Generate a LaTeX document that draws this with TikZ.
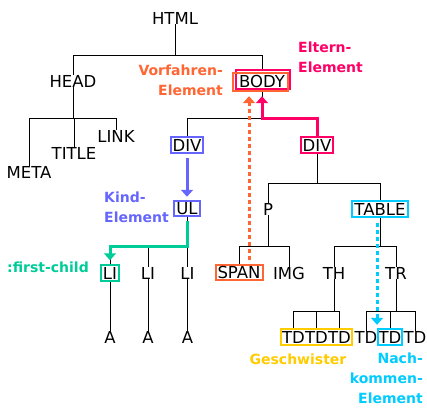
\documentclass[tikz,border=0pt]{standalone}
\usepackage{fontspec}
\setmainfont{DejaVu Sans}
\usetikzlibrary{arrows.meta,calc,fit}
\definecolor{orangec}{HTML}{FF6633}
\definecolor{pinkc}{HTML}{FF0066}
\definecolor{bluec}{HTML}{6666FF}
\definecolor{greenc}{HTML}{00CC99}
\definecolor{yellowc}{HTML}{FFCC00}
\definecolor{cyanc}{HTML}{00CCFF}
\newcommand\tnf{\fontsize{16.5}{20}\selectfont}
\newcommand\lbf{\bfseries\fontsize{14}{20}\selectfont}
\begin{document}
\begin{tikzpicture}[x=1pt,y=-1pt,
 tn/.style={font=\tnf, inner sep=0pt, text height=12pt, text depth=0pt},
 bx/.style={tn, draw=#1, line width=2pt, inner xsep=2pt, inner ysep=1.75pt},
 fitbox/.style={draw=#1, line width=2pt},
 tl/.style={line width=1pt},
 lbl/.style={font=\lbf, inner sep=0pt, text=#1},
 thickarrow/.style={draw=#1, line width=3pt, -{Triangle[width=12pt,length=7pt]}},
 dotarrow/.style={draw=#1, line width=3pt, dash pattern=on 4pt off 3pt, -{Triangle[width=12pt,length=7pt]}},
]
\useasboundingbox (0,0) rectangle (427,416);
\fill[white] (0,0) rectangle (427,416);
% bars
\coordinate (b1) at (0,55);
\coordinate (b2) at (0,118);
\coordinate (b3) at (0,183);
\coordinate (b4) at (0,246.5);
\coordinate (b5) at (0,311);
\coordinate (ox) at (249,0);
\coordinate (cx) at (377,0);
% nodes
\node[tn] (html) at (175,18) {HTML};
\node[tn] (head) at (73,81) {HEAD};
\node[tn] (meta) at (29,172) {META};
\node[tn] (title) at (74,153) {TITLE};
\node[tn] (link) at (116,136) {LINK};
\node[tn] (body) at (262,81) {BODY};
\node[fit=(body), inner xsep=3.5pt, inner ysep=3.5pt, xshift=1pt, yshift=1.5pt, fitbox=pinkc] (bodyp) {};
\node[fit=(body), inner xsep=4pt, inner ysep=3pt, xshift=-1.5pt, yshift=-1pt, fitbox=orangec] (bodyo) {};
\node[bx=bluec] (div1) at (187,145) {DIV};
\node[bx=pinkc] (div2) at (317,145) {DIV};
\node[bx=bluec] (ul) at (187,208.5) {UL};
\node[bx=greenc] (li1) at (110,273) {LI};
\node[tn] (li2) at (148,273) {LI};
\node[tn] (li3) at (187.5,273) {LI};
\node[tn] (a1) at (110,337) {A};
\node[tn] (a2) at (148,337) {A};
\node[tn] (a3) at (187.5,337) {A};
\node[tn] (p) at (268,209) {P};
\node[bx=cyanc] (table) at (380,209) {TABLE};
\node[bx=orangec] (span) at (239,272.5) {SPAN};
\node[tn] (img) at (289,273) {IMG};
\node[tn] (th) at (334,273) {TH};
\node[tn] (tr) at (396,273) {TR};
\node[tn] (td1) at (293.5,337) {TD};
\node[tn] (td2) at (316.5,337) {TD};
\node[tn] (td3) at (339.5,337) {TD};
\node[tn] (td4) at (366,337) {TD};
\node[tn] (td5) at (390,337) {TD};
\node[tn] (td6) at (415,337) {TD};
\node[fit=(td1)(td3), inner xsep=1pt, inner ysep=2pt, fitbox=yellowc] (tdbox) {};
\node[fit=(td5), inner xsep=0.5pt, inner ysep=2pt, fitbox=cyanc] (td5b) {};
% tree lines
\draw[tl] (html.south) -- (html.south |- b1) -| (head.north);
\draw[tl] (html.south |- b1) -| (bodyp.north -| body);
\draw[tl] (head.south) -- (head.south |- b2) -| (meta.north);
\draw[tl] (head.south |- b2) -| (title.north);
\draw[tl] (head.south |- b2) -| (link.north);
\draw[tl] (bodyo.south -| body) -- (body |- b2) -| (div1.north);
\draw[tl] (body |- b2) -| (div2.north);
\draw[tl] (ul.south) -- (ul.south |- b4) -| (li1.north);
\draw[tl] (ul.south |- b4) -| (li2.north);
\draw[tl] (ul.south |- b4) -| (li3.north);
\draw[tl] (li1.south) -- (a1.north);
\draw[tl] (li2.south) -- (a2.north);
\draw[tl] (li3.south) -- (a3.north);
\draw[tl] (div2.south) -- (div2.south |- b3) -| (p.north);
\draw[tl] (div2.south |- b3) -| (table.north);
\draw[tl] (p.south) -- (p.south |- b4) -| (span.north);
\draw[tl] (p.south |- b4) -| (img.north);
\draw[tl] (table.south) -- (table.south |- b4) -| (th.north);
\draw[tl] (table.south |- b4) -| (tr.north);
\draw[tl] (th.south) -- (th.south |- b5) -| (tdbox.north -| td1);
\draw[tl] (th.south |- b5) -| (tdbox.north -| td2);
\draw[tl] (th.south |- b5) -| (tdbox.north -| td3);
\draw[tl] (tr.south) -- (tr.south |- b5) -| (td4.north);
\draw[tl] (tr.south |- b5) -| (td5b.north -| td5);
\draw[tl] (tr.south |- b5) -| (td6.north);
% colored arrows
\draw[thickarrow=bluec] ($(div1.south)+(0,4)$) -- ($(ul.north)+(0,-3)$);
\draw[thickarrow=greenc] ($(ul.south)+(0,4)$) -- (ul.south |- b4) -| ($(li1.north)+(0,-4)$);
\draw[thickarrow=pinkc] (div2.north) -- (div2.north |- b2) -| ($(body |- bodyo.south)+(0,4)$);
\draw[dotarrow=orangec] ($(span.north -| ox)+(0,-4)$) -- ($(bodyo.south -| ox)+(0,4)$);
\draw[dotarrow=cyanc] ($(table.south -| cx)+(0,5)$) -- ($(td5b.north -| cx)+(0,-3)$);
% labels
\node[lbl=orangec, align=right, anchor=north east] (vorf) at (223,64.5) {Vorfahren-\\Element};
\node[lbl=pinkc, align=left, anchor=north west] (eltern) at (298,41.5) {Eltern-\\Element};
\node[lbl=bluec, align=left, anchor=north west] (kind) at (104,191.5) {Kind-\\Element};
\node[lbl=greenc, anchor=base west] (fc) at (7,272) {:first-child};
\node[lbl=yellowc, anchor=base] (gesch) at (298,364) {Geschwister};
\node[lbl=cyanc, align=right, anchor=north east] (nach) at (423,352.5) {Nach-\\kommen-\\Element};
\end{tikzpicture}
\end{document}
